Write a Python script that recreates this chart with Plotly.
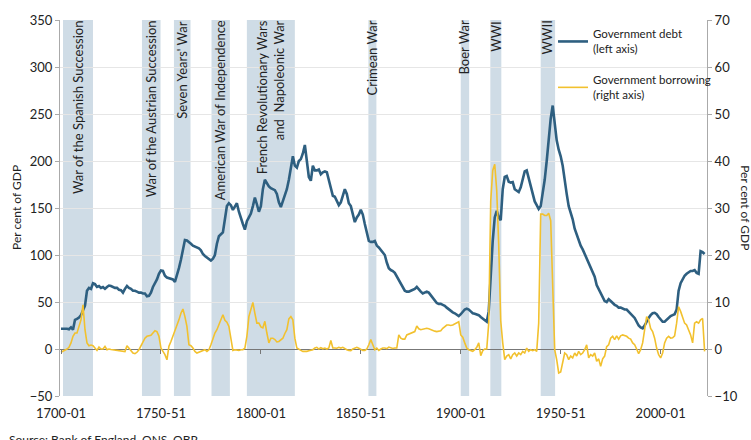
import plotly.graph_objects as go

# ---------------- data ----------------
debt_years = list(range(1700, 2023))
debt_values = [
    21.5, 21.5, 22, 21.5, 21, 23, 20.5, 31, 32, 33.5,            # 1700-1709
    36, 42, 46, 62, 65, 64, 70, 69, 66, 67,                      # 1710-1719
    65, 66, 64, 66, 67.5, 67, 66, 65, 65, 63,                    # 1720-1729
    62.5, 60, 64, 67, 65, 64, 62, 62, 61, 60,                    # 1730-1739
    60, 59, 59, 56, 56.5, 60, 66, 70, 74, 80,                    # 1740-1749
    83.5, 83, 78, 76, 75.5, 75, 74, 71.5, 78, 86,                # 1750-1759
    95, 104, 116, 115.5, 114, 112, 110, 109, 108, 107,           # 1760-1769
    105, 101, 99, 97.5, 96, 94, 96, 100, 112, 120,               # 1770-1779
    122, 124, 138, 152, 155, 153, 148, 152, 155, 146,            # 1780-1789
    138, 133, 127, 136, 140, 144, 152, 161, 154, 146,            # 1790-1799
    152, 170, 180, 176, 173, 171, 170, 169, 165, 156,            # 1800-1809
    151, 158, 163, 170, 180, 193, 205, 195, 193, 200,            # 1810-1819
    202, 208, 217, 200, 183, 179, 195, 190, 190, 191,            # 1820-1829
    186, 188, 189, 188, 180, 170, 163, 162, 157, 153,            # 1830-1839
    156, 163, 170, 165, 155, 152, 143, 135, 140, 143,            # 1840-1849
    148, 143, 133, 124, 115, 114, 114, 115, 110, 108,            # 1850-1859
    105, 103, 100, 92, 86, 84, 83, 81, 77, 73,                   # 1860-1869
    70, 66, 62, 61, 61, 62, 63, 64, 66, 63,                      # 1870-1879
    61, 59, 60, 61, 60, 57, 54, 51, 49, 48,                      # 1880-1889
    48, 47, 46, 44, 42, 41, 39, 38, 36, 35,                      # 1890-1899
    37, 40, 42, 43, 42, 40, 38, 37.5, 36.5, 36,                  # 1900-1909
    34, 32, 30, 29, 40, 80, 115, 140, 147, 140,                  # 1910-1919
    137, 170, 183, 184, 178, 177, 177.5, 170, 168, 167,          # 1920-1929
    172, 180, 189, 190, 181, 175, 165, 157, 153, 149,            # 1930-1939
    152, 165, 180, 200, 225, 245, 259, 240, 222, 212,            # 1940-1949
    205, 195, 178, 165, 152, 145, 138, 128, 122, 114,            # 1950-1959
    110, 106, 101, 97, 93, 88, 82, 77, 68, 64,                   # 1960-1969
    59, 56, 51, 50, 53, 51, 48.5, 47, 46, 44,                    # 1970-1979
    44, 43, 42, 42, 40, 38, 36, 33, 29, 25,                      # 1980-1989
    23, 22, 25, 30, 33, 36, 38, 38.5, 37, 34,                    # 1990-1999
    31, 29, 29, 31, 34, 35, 36, 37, 42, 62,                      # 2000-2009
    70, 75, 78, 80, 82, 83, 83, 84, 81, 80,                      # 2010-2019
    104, 103, 101,                                               # 2020-2022
]

borrow_years = list(range(1700, 2023))
borrow_values = [
    -0.7, -0.5, -0.35, 0.0, 0.35, 1.3, 2.7, 3.4, 3.4, 4.8,       # 1700-1709
    6.2, 9.4, 4.1, 1.3, 0.7, 0.85, 0.7, 0.2, -0.3, 0.4,          # 1710-1719
    0.0, 0.0, 0.55, -0.15, 0.0, -0.1, -0.15, -0.2, -0.3, -0.35,  # 1720-1729
    -0.4, -0.5, -0.55, 0.7, 0.2, -0.5, -0.85, -1.0, -0.7, -0.15, # 1730-1739
    0.7, 1.6, 2.3, 2.7, 2.8, 2.9, 3.4, 3.9, 3.7, 2.7,            # 1740-1749
    0.2, -0.5, -1.2, -2.3, 0.6, 1.6, 2.7, 3.7, 4.8, 6.2,         # 1750-1759
    7.6, 8.5, 6.9, 4.8, 0.9, 0.7, 0.2, -0.5, -0.85, -0.7,        # 1760-1769
    -0.5, -0.3, -0.15, -0.5, -0.15, 0.9, 2.3, 3.4, 4.1, 5.2,     # 1770-1779
    6.2, 7.3, 6.1, 5.7, 4.8, 2.0, -0.3, -0.15, -0.3, -0.3,       # 1780-1789
    -0.15, -0.15, 0.2, 2.7, 6.9, 8.7, 9.9, 7.6, 5.5, 5.5,        # 1790-1799
    4.7, 4.5, 5.9, 3.4, 1.3, 2.3, 2.3, 2.0, 1.5, 1.6,            # 1800-1809
    2.0, 2.3, 3.3, 4.1, 6.4, 6.9, 6.2, 2.3, 0.2, -0.15,          # 1810-1819
    -0.3, -0.5, -0.55, -0.5, -0.35, -0.3, -0.15, 0.2, 0.35, 0.0, # 1820-1829
    0.3, 0.05, 0.2, 0.0, 0.2, 1.8, 0.2, 0.2, 0.15, 0.35,         # 1830-1839
    0.2, 0.35, 0.0, -0.15, -0.3, -0.35, 0.0, 0.2, 0.35, 0.15,    # 1840-1849
    -0.15, -0.3, -0.3, 0.0, 0.9, 2.0, 0.9, -0.15, 0.2, -0.3,     # 1850-1859
    0.0, 0.2, 0.2, 0.1, 0.4, 0.2, 0.1, 0.2, 0.2, 3.0,            # 1860-1869
    2.3, 2.1, 2.1, 3.0, 3.2, 3.4, 3.5, 3.7, 4.9, 4.3,            # 1870-1879
    4.1, 4.2, 4.4, 4.4, 4.3, 4.1, 4.0, 3.8, 3.7, 3.8,            # 1880-1889
    3.9, 4.4, 4.8, 5.1, 5.1, 5.0, 5.1, 5.3, 5.5, 5.8,            # 1890-1899
    3.0, 2.5, 1.3, 0.2, -0.15, -0.3, -0.5, -0.15, 0.35, 1.3,     # 1900-1909
    -1.4, -0.35, 0.0, 0.0, 5.5, 31.5, 38.0, 39.3, 33.7, 22.0,    # 1910-1919
    6.0, 1.3, -2.25, -1.5, -1.2, -2.1, -1.2, -0.85, -1.5, -0.85, # 1920-1929
    -1.2, -0.5, -0.85, 0.2, -0.5, -0.15, -0.35, -0.15, -0.5, 5.5,# 1930-1939
    28.7, 28.7, 28.4, 28.4, 28.9, 27.3, 15.4, -0.15, -2.25, -5.1,# 1940-1949
    -4.9, -2.6, -0.85, -1.2, -2.25, -1.5, -1.9, -0.85, -1.5, -0.5,# 1950-1959
    -1.2, -0.85, -0.15, 0.9, -1.9, -1.2, -1.5, -0.85, -2.6, -2.1,# 1960-1969
    -3.7, -2.1, -1.5, 0.5, 0.9, 2.3, 2.7, 2.0, 2.8, 2.1,         # 1970-1979
    2.8, 3.0, 2.8, 2.7, 2.3, 2.1, 1.3, 0.9, 0.0, -1.0,           # 1980-1989
    -0.15, 1.3, 4.1, 6.9, 6.2, 4.4, 3.7, 2.3, 0.2, -1.2,         # 1990-1999
    -1.9, -0.85, 1.3, 2.3, 2.7, 2.3, 2.4, 2.8, 5.5, 9.0,         # 2000-2009
    8.0, 6.9, 5.5, 5.1, 4.2, 3.0, 1.3, 5.5, 5.8, 5.5,            # 2010-2019
    6.2, 6.5, -0.5,                                              # 2020-2022
]

war_names = [
    "War of the Spanish Succession",
    "War of the Austrian Succession",
    "Seven Years' War",
    "American War of Independence",
    "French Revolutionary Wars<br>and  Napoleonic War",
    "Crimean War",
    "Boer War",
    "WWI",
    "WWII",
]
war_starts = [1701, 1740.5, 1756.5, 1775.3, 1793, 1853.8, 1900, 1914.8, 1940]
war_ends = [1716, 1749.8, 1764.8, 1784.5, 1817, 1857.8, 1904.2, 1920.3, 1947.2]

tick_years = [1700, 1750, 1800, 1850, 1900, 1950, 2000]
tick_labels = ["1700-01", "1750-51", "1800-01", "1850-51", "1900-01", "1950-51", "2000-01"]

left_range = [-50, 350]
right_range = [-10, 70]
x_range = [1699.5, 2023.2]

# ---------------- styling ----------------
FONT = "Lato, 'Open Sans', sans-serif"
TXT = "#222222"
BAND = "#cfdce6"
DEBT = "#2e5f80"
BORROW = "#f2c12e"

fig = go.Figure()

fig.add_trace(go.Scatter(
    x=debt_years, y=debt_values, mode="lines",
    name="Government debt<br>(left axis)",
    line=dict(color=DEBT, width=2.6),
    legendgroup="a", yaxis="y",
))
fig.add_trace(go.Scatter(
    x=borrow_years, y=borrow_values, mode="lines",
    name="Government borrowing<br>(right axis)",
    line=dict(color=BORROW, width=1.6),
    legendgroup="b", yaxis="y2",
))

for s, e, name in zip(war_starts, war_ends, war_names):
    fig.add_vrect(x0=s, x1=e, fillcolor=BAND, opacity=1, line_width=0, layer="below")
    fig.add_annotation(
        x=(s + e) / 2, xref="x", y=1.004, yref="paper",
        text=name, textangle=-90, showarrow=False,
        xanchor="center", yanchor="top", align="right",
        font=dict(family=FONT, size=13, color=TXT),
    )

zero_pos = (0 - left_range[0]) / (left_range[1] - left_range[0])

fig.update_layout(
    width=751, height=440,
    margin=dict(l=60, r=44, t=18, b=44),
    paper_bgcolor="white", plot_bgcolor="white",
    font=dict(family=FONT, size=13, color=TXT),
    showlegend=True,
    legend=dict(
        x=0.762, y=1.0, xanchor="left", yanchor="top",
        bgcolor="rgba(0,0,0,0)", font=dict(family=FONT, size=11.5, color=TXT),
        traceorder="grouped", tracegroupgap=13, itemwidth=30,
    ),
    xaxis=dict(
        range=x_range, tickmode="array", tickvals=tick_years, ticktext=tick_labels,
        showgrid=False, zeroline=False, showline=False,
        ticks="outside", ticklen=5, tickcolor="rgba(0,0,0,0)",
        tickfont=dict(family=FONT, size=13, color=TXT),
    ),
    xaxis2=dict(
        matches="x", overlaying="x", anchor="free", position=zero_pos,
        tickmode="array", tickvals=tick_years, showticklabels=False,
        ticks="outside", ticklen=4, tickcolor="#777777",
        showgrid=False, zeroline=False, showline=False,
    ),
    yaxis=dict(
        range=left_range, dtick=50, showgrid=True, gridcolor="#e6e6e6",
        zeroline=True, zerolinecolor="#777777", zerolinewidth=1,
        showline=True, linecolor="#aaaaaa", ticks="outside", ticklen=4, tickcolor="#aaaaaa",
        tickfont=dict(family=FONT, size=13, color=TXT),
    ),
    yaxis2=dict(
        range=right_range, dtick=10, overlaying="y", side="right",
        showgrid=False, zeroline=False,
        showline=True, linecolor="#aaaaaa", ticks="outside", ticklen=4, tickcolor="#aaaaaa",
        tickfont=dict(family=FONT, size=13, color=TXT),
    ),
)

# invisible helper trace so the zero-line tick axis is rendered
fig.add_trace(go.Scatter(x=[x_range[0]], y=[0], xaxis="x2", yaxis="y",
                         mode="markers", marker=dict(opacity=0), showlegend=False,
                         hoverinfo="skip"))

fig.add_annotation(x=-0.068, xref="paper", y=0.5, yref="paper", text="Per cent of GDP",
                   textangle=-90, showarrow=False, xanchor="center", yanchor="middle",
                   font=dict(family=FONT, size=12, color=TXT))
fig.add_annotation(x=1.06, xref="paper", y=0.5, yref="paper", text="Per cent of GDP",
                   textangle=90, showarrow=False, xanchor="center", yanchor="middle",
                   font=dict(family=FONT, size=12, color=TXT))
fig.add_annotation(x=-0.082, xref="paper", y=-0.09, yref="paper",
                   text="Source: Bank of England, ONS, OBR",
                   showarrow=False, xanchor="left", yanchor="top",
                   font=dict(family=FONT, size=12, color=TXT))

fig.write_html("out.html", config={"displayModeBar": False},
               post_script="document.body.style.margin='0';document.body.style.overflow='hidden';")
